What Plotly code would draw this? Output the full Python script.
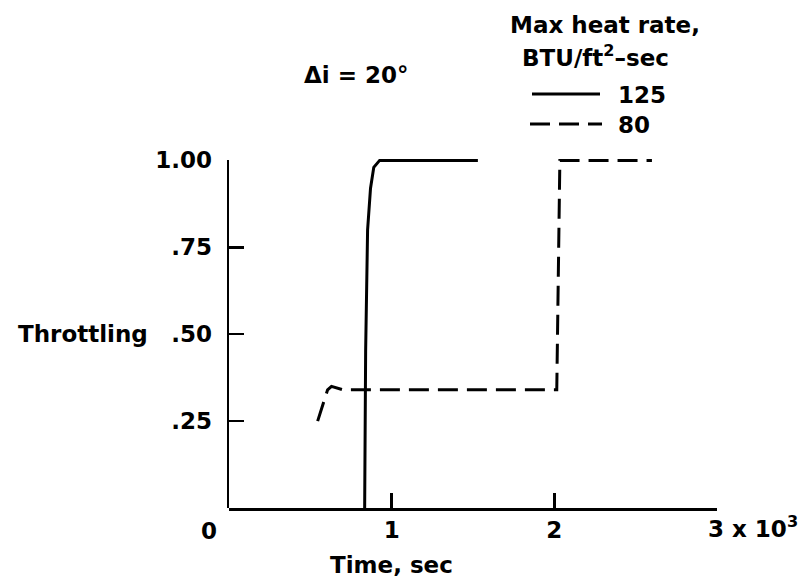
import plotly.graph_objects as go

# ---- data ----
t_125 = [0.834, 0.840, 0.852, 0.870, 0.890, 0.926, 1.53]
thr_125 = [0.0, 0.45, 0.80, 0.92, 0.98, 1.00, 1.00]

t_80 = [0.545, 0.606, 0.630, 0.700, 2.015, 2.034, 2.60]
thr_80 = [0.25, 0.34, 0.35, 0.34, 0.34, 1.00, 1.00]

series_names = ["125", "80"]
x_tickvals = [1, 2, 3]
x_ticktext = ["1", "2", ""]
y_tickvals = [0.25, 0.50, 0.75, 1.00]
y_ticktext = [".25", ".50", ".75", "1.00"]

FONT = dict(family="DejaVu Sans", size=23, color="black", weight="bold")
DASH = "20px,9px"

fig = go.Figure()
fig.add_trace(go.Scatter(x=t_125, y=thr_125, mode="lines", name=series_names[0],
                         line=dict(color="black", width=3), showlegend=False))
fig.add_trace(go.Scatter(x=t_80, y=thr_80, mode="lines", name=series_names[1],
                         line=dict(color="black", width=3, dash=DASH), showlegend=False))
# empty trace that carries the visible throttling axis
fig.add_trace(go.Scatter(x=[], y=[], yaxis="y2", showlegend=False, hoverinfo="skip"))

YTOP = 1.05
fig.update_layout(
    width=809, height=584,
    margin=dict(l=229, r=92, t=143, b=76, autoexpand=False),
    paper_bgcolor="white", plot_bgcolor="rgba(0,0,0,0)",
    font=FONT,
    xaxis=dict(range=[0, 3], domain=[0, 1], anchor="y", automargin=False,
               showline=True, linecolor="black", linewidth=2.5,
               ticks="inside", ticklen=15, tickwidth=2.5, tickcolor="black",
               tickvals=x_tickvals, ticktext=x_ticktext,
               showgrid=False, zeroline=False, tickfont=FONT),
    yaxis=dict(range=[0, YTOP], domain=[0, 1], anchor="x", automargin=False,
               showline=False, showticklabels=False, ticks="",
               showgrid=False, zeroline=False),
    yaxis2=dict(range=[0, 1], domain=[0, 1 / YTOP], anchor="x", automargin=False,
                showline=True, linecolor="black", linewidth=2.5,
                ticks="inside", ticklen=15, tickwidth=2.5, tickcolor="black",
                tickvals=y_tickvals, ticktext=y_ticktext,
                ticklabelstandoff=10,
                showgrid=False, zeroline=False, tickfont=FONT),
)

def px_x(px):
    return (px - 229) / 488.0

def px_y(py):
    return (508 - py) / 365.0

ann = [
    dict(text="Max heat rate,", x=px_x(605), y=px_y(25), xref="paper", yref="paper",
         xanchor="center", yanchor="middle"),
    dict(text="BTU/ft<sup>2</sup>\u2013sec", x=px_x(595), y=px_y(56), xref="paper", yref="paper",
         xanchor="center", yanchor="middle"),
    dict(text=series_names[0], x=px_x(616), y=px_y(95), xref="paper", yref="paper",
         xanchor="left", yanchor="middle"),
    dict(text=series_names[1], x=px_x(616), y=px_y(125), xref="paper", yref="paper",
         xanchor="left", yanchor="middle"),
    dict(text="\u0394i = 20\u00b0", x=px_x(356), y=px_y(75), xref="paper", yref="paper",
         xanchor="center", yanchor="middle"),
    dict(text="Throttling", x=px_x(150), y=0.5, xref="paper", yref="y",
         xanchor="right", yanchor="middle"),
    dict(text="Time, sec", x=1, y=px_y(565), xref="x", yref="paper",
         xanchor="center", yanchor="middle"),
    dict(text="0", x=0, xshift=-20, y=px_y(531), xref="x", yref="paper",
         xanchor="center", yanchor="middle"),
    dict(text="3 x 10<sup>3</sup>", x=3, xshift=-11, y=px_y(527), xref="x", yref="paper",
         xanchor="left", yanchor="middle"),
]
for a in ann:
    a.update(showarrow=False, font=FONT)

# legend keys (decoration)
shapes = [
    dict(type="line", xref="paper", yref="paper", x0=px_x(532), x1=px_x(600),
         y0=px_y(94), y1=px_y(94), line=dict(color="black", width=3)),
    dict(type="line", xref="paper", yref="paper", x0=px_x(530), x1=px_x(602),
         y0=px_y(124), y1=px_y(124), line=dict(color="black", width=3, dash=DASH)),
]
fig.update_layout(annotations=ann, shapes=shapes)

fig.write_html("out.html",
               config={"displayModeBar": False, "staticPlot": True},
               post_script="document.body.style.margin='0';document.body.style.padding='0';")
